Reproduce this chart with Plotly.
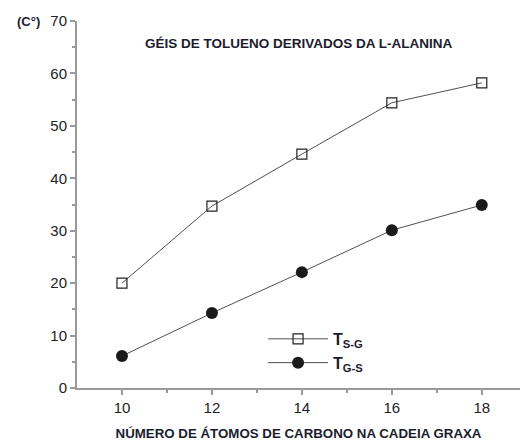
import plotly.graph_objects as go

# Number of carbon atoms in the fatty chain
carbonos = [10, 12, 14, 16, 18]
# Transition temperatures (°C)
t_sg = [20.0, 34.7, 44.6, 54.4, 58.2]
t_gs = [6.1, 14.3, 22.1, 30.1, 34.9]

x_ticks = [10, 12, 14, 16, 18]
y_ticks = [0, 10, 20, 30, 40, 50, 60, 70]

axis_gray = "#9a9a9a"
line_gray = "#505050"
text_dark = "#1c1c2e"

fig = go.Figure()
fig.add_trace(go.Scatter(
    x=carbonos, y=t_sg, mode="lines+markers",
    name="<b>T<sub>S-G</sub></b>",
    line=dict(color=line_gray, width=1),
    marker=dict(symbol="square-open", size=10, color="#222222",
                line=dict(width=1.2, color="#222222")),
))
fig.add_trace(go.Scatter(
    x=carbonos, y=t_gs, mode="lines+markers",
    name="<b>T<sub>G-S</sub></b>",
    line=dict(color=line_gray, width=1),
    marker=dict(symbol="circle", size=12, color="#1a1a1a"),
))

fig.update_layout(
    width=523, height=443,
    margin=dict(l=77, r=3, t=21, b=55),
    paper_bgcolor="white", plot_bgcolor="white",
    font=dict(family="Liberation Sans, Arial, sans-serif", color="#222222"),
    showlegend=True,
    legend=dict(x=0.42, y=0.18, xanchor="left", yanchor="top",
                bgcolor="rgba(0,0,0,0)", font=dict(size=16, color=text_dark),
                itemwidth=60),
    xaxis=dict(
        range=[9.0, 18.85], tickvals=x_ticks, ticktext=[str(v) for v in x_ticks],
        showgrid=False, zeroline=False, showline=True, linecolor=axis_gray, linewidth=2,
        ticks="outside", ticklen=5, tickcolor=axis_gray, tickwidth=1.5,
        tickfont=dict(size=15, color="#222222"),
        minor=dict(tickvals=[11, 13, 15, 17], ticks="outside", ticklen=3,
                   tickcolor=axis_gray, tickwidth=1.5),
        title=dict(text="<b>NÚMERO DE ÁTOMOS DE CARBONO NA CADEIA GRAXA</b>",
                   font=dict(size=13.3, color=text_dark), standoff=14),
    ),
    yaxis=dict(
        range=[0, 70], tickvals=y_ticks, ticktext=[str(v) for v in y_ticks],
        showgrid=False, zeroline=False, showline=True, linecolor=axis_gray, linewidth=2,
        ticks="outside", ticklen=5, tickcolor=axis_gray, tickwidth=1.5,
        tickfont=dict(size=15, color="#222222"),
        minor=dict(tickvals=[5, 15, 25, 35, 45, 55, 65], ticks="outside", ticklen=3,
                   tickcolor=axis_gray, tickwidth=1.5),
    ),
    annotations=[
        dict(text="<b>GÉIS DE TOLUENO DERIVADOS DA L-ALANINA</b>",
             xref="paper", yref="paper", x=0.5, y=0.94, xanchor="center", yanchor="middle",
             showarrow=False, font=dict(size=13.5, color=text_dark)),
        dict(text="<b>(C°)</b>", xref="paper", yref="paper", x=-0.079, y=1.0,
             xanchor="right", yanchor="middle", showarrow=False,
             font=dict(size=13, color=text_dark)),
    ],
)

fig.write_html("out.html")
